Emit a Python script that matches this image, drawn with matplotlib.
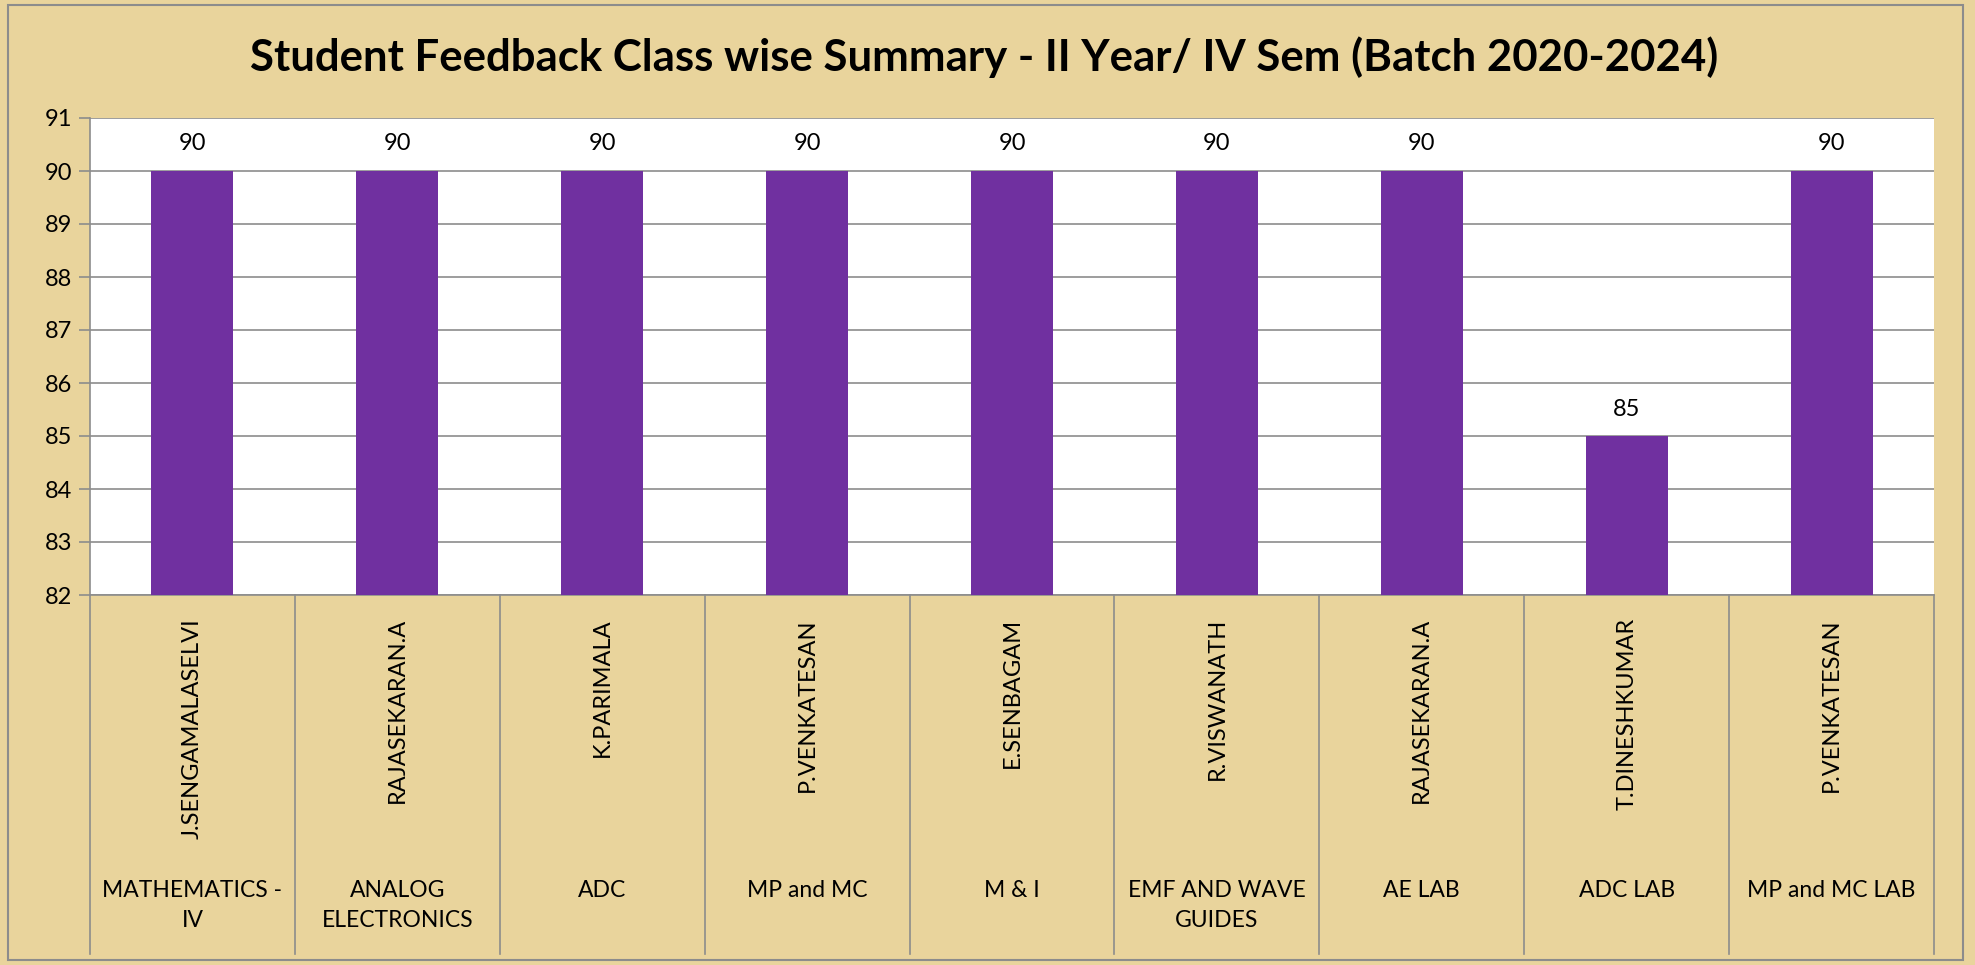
import matplotlib
matplotlib.use("Agg")
import matplotlib.pyplot as plt
from matplotlib.patches import Rectangle
from matplotlib.lines import Line2D

# ---- data ----
subjects = ["MATHEMATICS -\nIV", "ANALOG\nELECTRONICS", "ADC", "MP and MC", "M & I",
            "EMF AND WAVE\nGUIDES", "AE LAB", "ADC LAB", "MP and MC LAB"]
faculty = ["J.SENGAMALASELVI", "RAJASEKARAN.A", "K.PARIMALA", "P.VENKATESAN", "E.SENBAGAM",
           "R.VISWANATH", "RAJASEKARAN.A", "T.DINESHKUMAR", "P.VENKATESAN"]
scores = [90, 90, 90, 90, 90, 90, 90, 85, 90]
y_ticks = [82, 83, 84, 85, 86, 87, 88, 89, 90, 91]
title = "Student Feedback Class wise Summary - II Year/ IV Sem (Batch 2020-2024)"

W, H = 1975, 965
DPI = 100
BG = "#E9D49C"
BAR = "#7030A0"
GRID = "#8C8C8C"
FONT = "Lato"

fig = plt.figure(figsize=(W / DPI, H / DPI), dpi=DPI, facecolor=BG)

def fx(px):
    return px / W

def fy(py):
    return 1 - py / H

# outer border
fig.add_artist(Rectangle((fx(8), fy(960)), fx(1963) - fx(8), fy(5) - fy(960),
                         transform=fig.transFigure, fill=False, edgecolor="#8C8C8C", lw=1.5))

left, right, top, bottom = 90, 1934, 118, 595
ax = fig.add_axes([fx(left), fy(bottom), fx(right) - fx(left), fy(top) - fy(bottom)])
ax.set_facecolor("white")

n = len(scores)
x = list(range(n))
ax.bar(x, scores, width=0.4, color=BAR, zorder=3)
ax.set_xlim(-0.5, n - 0.5)
ax.set_ylim(82, 91)
ax.set_yticks(y_ticks)
ax.set_yticklabels([str(t) for t in y_ticks], fontsize=17, fontfamily=FONT)
ax.tick_params(axis="y", length=8, width=1.2, color=GRID, pad=5)
ax.tick_params(axis="x", length=0, labelbottom=False)
ax.yaxis.grid(True, color=GRID, lw=1.2, zorder=1)
for s in ["top", "right"]:
    ax.spines[s].set_visible(False)
for s in ["left", "bottom"]:
    ax.spines[s].set_color(GRID)
    ax.spines[s].set_linewidth(1.2)

# data labels
for xi, v in zip(x, scores):
    ax.annotate(str(v), (xi, v), xytext=(0, 27), textcoords="offset pixels",
                ha="center", va="center", fontsize=17, fontfamily=FONT, zorder=4)

# category area separators and labels
trans = matplotlib.transforms.blended_transform_factory(ax.transData, fig.transFigure)
for b in range(n + 1):
    xb = b - 0.5
    fig.add_artist(Line2D([xb, xb], [fy(bottom), fy(954)], transform=trans,
                          color=GRID, lw=1.2))
for xi, name, subj in zip(x, faculty, subjects):
    fig.text(xi, fy(618), name, transform=trans, rotation=90, ha="center", va="top",
             fontsize=17, fontfamily=FONT)
    fig.text(xi, fy(880), subj, transform=trans, ha="center", va="top",
             fontsize=16.5, fontfamily=FONT, linespacing=1.55, multialignment="center")

fig.text(fx(984), fy(57), title, ha="center", va="center", fontsize=31.5,
         fontweight="bold", fontfamily=FONT)

fig.savefig("out.png", dpi=DPI, facecolor=BG)
